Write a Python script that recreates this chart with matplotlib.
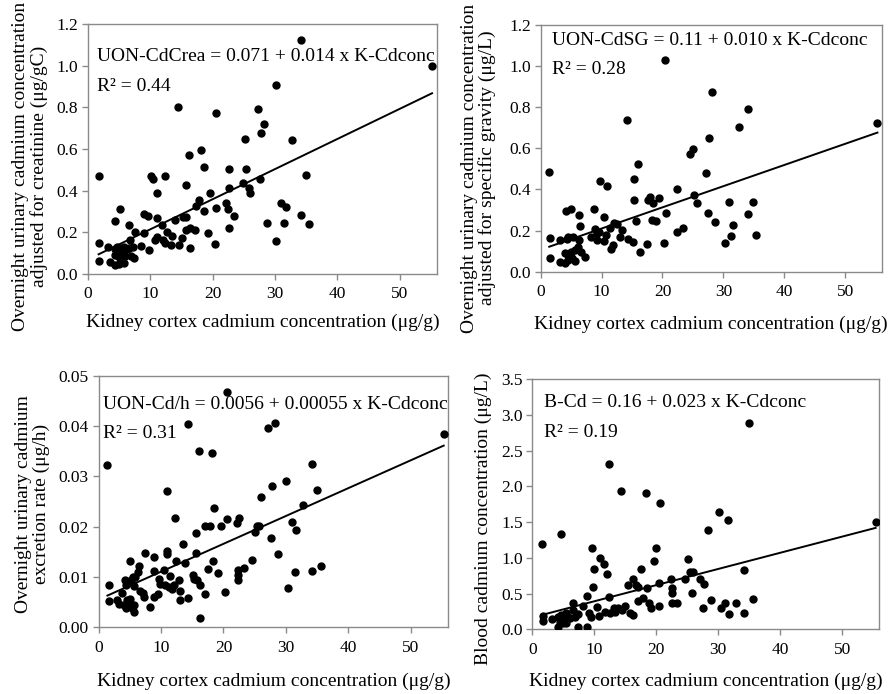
import numpy as np
import matplotlib
matplotlib.use('Agg')
import matplotlib.pyplot as plt

plt.rcParams['font.family'] = ['Liberation Serif', 'DejaVu Serif']

XLABEL = 'Kidney cortex cadmium concentration (μg/g)'

# panel 1 - creatinine adjusted
kc_1 = [1.7, 1.7, 1.7, 3.2, 3.5, 4.4, 5.2, 4.3, 4.6, 4.9,
        5.1, 5.4, 5.7, 6.3, 4.4, 4.9, 5.3, 5.9, 4.3, 5.0,
        5.8, 6.6, 6.8, 6.6, 6.9, 7.4, 7.6, 7.2, 8.5, 9.0,
        9.0, 9.7, 9.8, 10.1, 10.5, 11.1, 11.0, 10.7, 11.0, 11.8,
        12.0, 12.4, 12.6, 12.4, 13.3, 13.5, 13.9, 14.4, 14.6, 15.1,
        15.2, 15.7, 15.7, 15.8, 16.2, 16.3, 16.4, 17.1, 17.4, 17.8,
        18.2, 18.6, 18.6, 19.2, 19.6, 20.4, 20.6, 20.6, 22.2, 22.4,
        22.6, 22.7, 22.7, 23.5, 24.8, 25.2, 25.3, 25.8, 26.0, 27.2,
        27.6, 27.8, 28.3, 28.7, 30.1, 30.2, 31.0, 31.4, 31.7, 32.7,
        34.2, 34.2, 34.9, 35.5, 55.2]
crea = [0.468, 0.147, 0.062, 0.131, 0.056, 0.256, 0.312, 0.12, 0.13, 0.115,
        0.125, 0.11, 0.13, 0.12, 0.09, 0.08, 0.095, 0.085, 0.043, 0.05,
        0.051, 0.236, 0.163, 0.124, 0.088, 0.075, 0.2, 0.13, 0.134, 0.29,
        0.195, 0.278, 0.115, 0.471, 0.457, 0.39, 0.268, 0.163, 0.176, 0.236,
        0.163, 0.471, 0.2, 0.147, 0.14, 0.18, 0.26, 0.8, 0.14, 0.171,
        0.272, 0.428, 0.272, 0.212, 0.572, 0.223, 0.123, 0.212, 0.324, 0.356,
        0.596, 0.513, 0.304, 0.196, 0.388, 0.143, 0.772, 0.316, 0.34, 0.312,
        0.223, 0.506, 0.415, 0.279, 0.436, 0.65, 0.506, 0.412, 0.388, 0.792,
        0.455, 0.676, 0.72, 0.247, 0.909, 0.16, 0.34, 0.247, 0.32, 0.644,
        1.122, 0.284, 0.476, 0.239, 1.0]

# panel 2 - specific gravity adjusted
kc_2 = [1.4, 1.6, 1.6, 3.1, 3.2, 4.1, 5.0, 4.3, 4.5, 5.3,
        4.0, 4.5, 5.0, 5.6, 4.0, 4.5, 5.6, 5.1, 6.3, 6.4,
        6.3, 6.2, 6.7, 7.3, 8.2, 8.8, 8.9, 9.2, 9.3, 9.6,
        9.7, 10.4, 10.4, 10.9, 10.8, 11.3, 11.6, 11.8, 12.1, 12.6,
        13.0, 13.4, 14.2, 14.4, 15.1, 15.4, 15.4, 15.6, 16.0, 16.3,
        17.5, 17.7, 18.0, 18.4, 18.3, 19.0, 19.5, 20.3, 20.4, 20.5,
        22.4, 22.4, 23.3, 24.6, 25.0, 25.1, 25.7, 27.1, 27.5, 27.7,
        28.1, 28.7, 30.2, 30.9, 31.3, 31.6, 32.6, 34.1, 34.1, 34.9,
        35.4, 55.3]
sg = [0.486, 0.165, 0.068, 0.154, 0.049, 0.297, 0.303, 0.157, 0.167, 0.17,
      0.09, 0.082, 0.097, 0.105, 0.04, 0.058, 0.05, 0.065, 0.276, 0.222,
      0.154, 0.12, 0.097, 0.07, 0.17, 0.306, 0.206, 0.186, 0.154, 0.195,
      0.443, 0.268, 0.151, 0.417, 0.177, 0.211, 0.109, 0.13, 0.235, 0.232,
      0.17, 0.203, 0.738, 0.157, 0.146, 0.451, 0.349, 0.248, 0.524, 0.097,
      0.133, 0.349, 0.365, 0.332, 0.251, 0.248, 0.357, 0.138, 1.03, 0.284,
      0.4, 0.195, 0.214, 0.571, 0.597, 0.373, 0.332, 0.478, 0.287, 0.649,
      0.872, 0.243, 0.138, 0.34, 0.174, 0.225, 0.702, 0.79, 0.279, 0.339,
      0.177, 0.722]

# panel 3 - excretion rate
kc_3 = [1.4, 1.6, 1.6, 3.0, 3.2, 3.7, 4.2, 4.4, 4.0, 4.4,
        4.9, 5.3, 5.6, 4.6, 5.1, 5.0, 4.6, 5.2, 5.5, 5.8,
        5.6, 5.7, 6.3, 6.5, 6.7, 7.1, 7.3, 7.4, 8.2, 8.8,
        8.9, 8.8, 9.5, 9.7, 9.8, 10.4, 10.7, 10.9, 10.9, 10.9,
        11.2, 11.5, 11.8, 12.0, 12.2, 12.4, 12.9, 13.0, 13.1, 13.5,
        13.8, 14.3, 14.3, 15.1, 15.3, 15.6, 15.6, 15.7, 16.1, 16.2,
        16.3, 17.0, 17.0, 17.6, 17.8, 18.2, 18.4, 18.5, 19.2, 19.6,
        20.3, 20.5, 20.6, 22.2, 22.5, 22.4, 22.4, 22.4, 23.3, 24.6,
        25.1, 25.3, 25.7, 26.0, 27.1, 27.6, 27.8, 28.3, 28.8, 30.1,
        30.3, 31.0, 31.4, 31.7, 32.8, 34.2, 34.2, 35.0, 35.6, 55.3]
rate = [0.0323, 0.0085, 0.0052, 0.0054, 0.0046, 0.0068, 0.0094, 0.0084, 0.0045, 0.0038,
        0.0045, 0.0038, 0.0045, 0.0055, 0.0056, 0.0132, 0.0089, 0.0094, 0.0100, 0.0099,
        0.0082, 0.0031, 0.0109, 0.0121, 0.0073, 0.0068, 0.0060, 0.0148, 0.0041, 0.0061,
        0.0140, 0.0111, 0.0066, 0.0097, 0.0087, 0.0114, 0.0084, 0.0270, 0.0152, 0.0146,
        0.0081, 0.0101, 0.0077, 0.0084, 0.0217, 0.0132, 0.0095, 0.0073, 0.0054, 0.0166,
        0.0128, 0.0405, 0.0059, 0.0104, 0.0097, 0.0188, 0.0148, 0.0094, 0.0351, 0.0084,
        0.0018, 0.0066, 0.0202, 0.0115, 0.0202, 0.0347, 0.0132, 0.0238, 0.0107, 0.0202,
        0.0070, 0.0468, 0.0215, 0.0208, 0.0217, 0.0114, 0.0104, 0.0094, 0.0117, 0.0134,
        0.0190, 0.0201, 0.0202, 0.0258, 0.0397, 0.0177, 0.0281, 0.0407, 0.0145, 0.0291,
        0.0079, 0.0210, 0.0109, 0.0193, 0.0244, 0.0325, 0.0112, 0.0273, 0.0122, 0.0384]

# panel 4 - blood
kc_4 = [1.5, 1.7, 1.7, 3.1, 4.1, 4.6, 4.2, 4.7, 5.0, 5.5,
        5.2, 5.8, 4.4, 4.9, 5.5, 6.1, 6.5, 6.6, 6.9, 7.3,
        7.4, 8.2, 8.8, 8.9, 9.1, 9.5, 9.6, 9.8, 9.9, 10.4,
        10.7, 10.9, 11.5, 11.7, 12.1, 12.3, 12.4, 12.6, 13.1, 13.4,
        13.9, 14.3, 14.4, 15.0, 15.4, 15.8, 16.2, 16.3, 16.7, 17.0,
        17.1, 17.6, 17.9, 18.3, 18.5, 18.8, 19.1, 19.7, 20.0, 20.4,
        20.6, 20.5, 22.3, 22.5, 22.6, 22.6, 23.4, 24.7, 25.2, 25.4,
        25.8, 26.0, 27.1, 27.7, 27.6, 28.3, 28.8, 30.2, 30.4, 31.1,
        31.5, 31.7, 32.8, 34.2, 34.2, 35.0, 35.6, 55.4]
blood = [1.188, 0.186, 0.116, 0.14, 0.037, 1.328, 0.177, 0.2, 0.154, 0.224,
         0.13, 0.177, 0.107, 0.093, 0.093, 0.154, 0.363, 0.27, 0.177, 0.214,
         0.028, 0.331, 0.466, 0.028, 0.233, 0.177, 1.132, 0.596, 0.839, 0.317,
         0.186, 0.993, 0.913, 0.247, 0.769, 0.447, 2.311, 0.224, 0.294, 0.247,
         0.303, 1.934, 0.27, 0.326, 0.62, 0.224, 0.699, 0.2, 0.62, 0.596,
         0.396, 0.839, 0.433, 1.901, 0.573, 0.363, 0.294, 0.96, 1.132, 0.331,
         1.761, 0.643, 0.699, 0.573, 0.503, 0.373, 0.373, 0.699, 0.983, 0.806,
         0.503, 0.806, 0.699, 0.629, 0.294, 1.389, 0.41, 1.636, 0.303, 0.373,
         1.528, 0.214, 0.373, 0.829, 0.224, 2.88, 0.429, 1.505]

# regression lines (intercept, slope)
fit_1 = (0.070, 0.01445)
fit_2 = (0.107, 0.0103)
fit_3 = (0.00553, 0.000553)
fit_4 = (0.166, 0.0226)


def panel(ax, x, y, fit, ymax, ystep, yfmt, ylabel, eq, r2, txt_pos, ylab_pos, xlab_y):
    x = np.array(x)
    ax.plot(x, y, 'o', color='black', markersize=5, zorder=3)
    xs = np.array([x.min(), x.max()])
    ax.plot(xs, fit[0] + fit[1] * xs, color='black', lw=1.4)
    ax.set_xlim(0, 56)
    ax.set_ylim(0, ymax)
    ax.set_xticks(np.arange(0, 51, 10))
    yt = np.arange(0, ymax + ystep / 2, ystep)
    ax.set_yticks(yt)
    ax.set_yticklabels([yfmt.format(v) for v in yt])
    for s in ax.spines.values():
        s.set_color('#8a8a8a')
        s.set_linewidth(1.0)
    ax.tick_params(direction='out', length=4, width=1, color='#8a8a8a',
                   labelsize=12.5, pad=3)
    ax.tick_params(axis='x', pad=5)
    ax.set_xlabel(XLABEL, fontsize=14)
    ax.xaxis.set_label_coords(0.5, xlab_y)
    ax.set_ylabel(ylabel, fontsize=14, linespacing=1.05)
    ax.yaxis.set_label_coords(ylab_pos[0], ylab_pos[1])
    ax.text(txt_pos[0], txt_pos[1], eq, transform=ax.transAxes,
            fontsize=14, va='center', ha='left', clip_on=False)
    ax.text(txt_pos[0], txt_pos[2], r2, transform=ax.transAxes,
            fontsize=14, va='center', ha='left')


def main():
    fig = plt.figure(figsize=(8.89, 6.94), dpi=100)
    ax1 = fig.add_axes([0.099, 0.6052, 0.3926, 0.3602])
    ax2 = fig.add_axes([0.6082, 0.6085, 0.3836, 0.3555])
    ax3 = fig.add_axes([0.111, 0.0961, 0.393, 0.3625])
    ax4 = fig.add_axes([0.5988, 0.0932, 0.3903, 0.3607])

    panel(ax1, kc_1, crea, fit_1, 1.2, 0.2, '{:.1f}',
          'Overnight urinary cadmium concentration\nadjusted for creatinine (μg/gC)',
          'UON-CdCrea = 0.071 + 0.014 x K-Cdconc', 'R² = 0.44',
          (0.026, 0.872, 0.752), (-0.115, 0.43), -0.16)
    panel(ax2, kc_2, sg, fit_2, 1.2, 0.2, '{:.1f}',
          'Overnight urinary cadmium concentration\nadjusted for specific gravity (μg/L)',
          'UON-CdSG = 0.11 + 0.010 x K-Cdconc', 'R² = 0.28',
          (0.032, 0.936, 0.818), (-0.13, 0.42), -0.178)
    panel(ax3, kc_3, rate, fit_3, 0.05, 0.01, '{:.2f}',
          'Overnight urinary cadmium\nexcretion rate (μg/h)',
          'UON-Cd/h = 0.0056 + 0.00055 x K-Cdconc', 'R² = 0.31',
          (0.013, 0.884, 0.771), (-0.139, 0.49), -0.18)
    panel(ax4, kc_4, blood, fit_4, 3.5, 0.5, '{:.1f}',
          'Blood cadmium concentration (μg/L)',
          'B-Cd = 0.16 + 0.023 x K-Cdconc', 'R² = 0.19',
          (0.035, 0.905, 0.785), (-0.116, 0.44), -0.172)

    fig.savefig('out.png', dpi=100)


if __name__ == "__main__":
    main()
